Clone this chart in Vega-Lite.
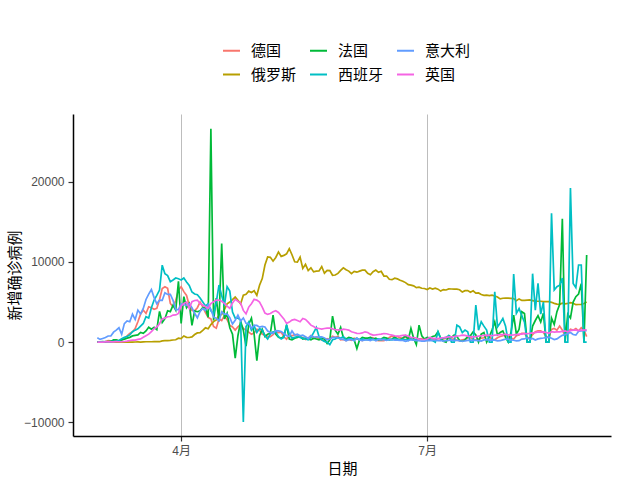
{
"$schema": "https://vega.github.io/schema/vega-lite/v6.json",
"width": 538, "height": 322,
"autosize": {"type": "none"},
"padding": {"left": 73, "top": 114, "right": 29, "bottom": 44},
"background": "white",
"data": {"format": {"parse": {"date": "date:'%Y-%m-%d'"}}, "values": [
{"date":"2020-03-01","德国":0,"俄罗斯":0,"法国":40,"西班牙":20,"意大利":561,"英国":10},
{"date":"2020-03-02","德国":0,"俄罗斯":0,"法国":30,"西班牙":40,"意大利":347,"英国":5},
{"date":"2020-03-03","德国":40,"俄罗斯":1,"法国":60,"西班牙":50,"意大利":466,"英国":10},
{"date":"2020-03-04","德国":70,"俄罗斯":0,"法国":15,"西班牙":60,"意大利":587,"英国":30},
{"date":"2020-03-05","德国":200,"俄罗斯":1,"法国":80,"西班牙":40,"意大利":769,"英国":30},
{"date":"2020-03-06","德国":180,"俄罗斯":0,"法国":90,"西班牙":70,"意大利":778,"英国":45},
{"date":"2020-03-07","德国":130,"俄罗斯":4,"法国":280,"西班牙":100,"意大利":1247,"英国":45},
{"date":"2020-03-08","德国":240,"俄罗斯":0,"法国":300,"西班牙":130,"意大利":1492,"英国":65},
{"date":"2020-03-09","德国":140,"俄罗斯":3,"法国":180,"西班牙":200,"意大利":1797,"英国":50},
{"date":"2020-03-10","德国":280,"俄罗斯":0,"法国":290,"西班牙":430,"意大利":977,"英国":55},
{"date":"2020-03-11","德国":450,"俄罗斯":8,"法国":370,"西班牙":600,"意大利":2313,"英国":80},
{"date":"2020-03-12","德国":800,"俄罗斯":8,"法国":500,"西班牙":700,"意大利":2651,"英国":130},
{"date":"2020-03-13","德国":1080,"俄罗斯":14,"法国":600,"西班牙":900,"意大利":2547,"英国":210},
{"date":"2020-03-14","德国":1300,"俄罗斯":16,"法国":780,"西班牙":1300,"意大利":3497,"英国":260},
{"date":"2020-03-15","德国":1710,"俄罗斯":18,"法国":840,"西班牙":1500,"意大利":2823,"英国":250},
{"date":"2020-03-16","德国":2540,"俄罗斯":30,"法国":900,"西班牙":1670,"意大利":4000,"英国":350},
{"date":"2020-03-17","德国":3500,"俄罗斯":12,"法国":1210,"西班牙":2000,"意大利":3526,"英国":400},
{"date":"2020-03-18","德国":4000,"俄罗斯":33,"法国":1100,"西班牙":2330,"意大利":4207,"英国":600},
{"date":"2020-03-19","德国":3580,"俄罗斯":52,"法国":1400,"西班牙":3170,"意大利":5322,"英国":800},
{"date":"2020-03-20","德国":4420,"俄罗斯":54,"法国":1860,"西班牙":3000,"意大利":5986,"英国":1000},
{"date":"2020-03-21","德国":4300,"俄罗斯":53,"法国":1620,"西班牙":4290,"意大利":6557,"英国":1300},
{"date":"2020-03-22","德国":4100,"俄罗斯":61,"法国":1850,"西班牙":5250,"意大利":5560,"英国":1670},
{"date":"2020-03-23","德国":4210,"俄罗斯":71,"法国":1560,"西班牙":5830,"意大利":4789,"英国":1880},
{"date":"2020-03-24","德国":5300,"俄罗斯":57,"法国":3840,"西班牙":6500,"意大利":5249,"英国":2300},
{"date":"2020-03-25","德国":6700,"俄罗斯":163,"法国":2450,"西班牙":9600,"意大利":5210,"英国":2900},
{"date":"2020-03-26","德国":6920,"俄罗斯":182,"法国":2930,"西班牙":8540,"意大利":6153,"英国":3000},
{"date":"2020-03-27","德国":6710,"俄罗斯":196,"法国":3920,"西班牙":8300,"意大利":5959,"英国":3170},
{"date":"2020-03-28","德国":4830,"俄罗斯":228,"法国":3810,"西班牙":7540,"意大利":5974,"英国":3200},
{"date":"2020-03-29","德国":4420,"俄罗斯":270,"法国":4610,"西班牙":7750,"意大利":5217,"英国":3375},
{"date":"2020-03-30","德国":5200,"俄罗斯":302,"法国":4000,"西班牙":8000,"意大利":4050,"英国":3400},
{"date":"2020-03-31","德国":6500,"俄罗斯":500,"法国":7600,"西班牙":7900,"意大利":4053,"英国":3580},
{"date":"2020-04-01","德国":6920,"俄罗斯":440,"法国":2330,"西班牙":7750,"意大利":4782,"英国":4500},
{"date":"2020-04-02","德国":6300,"俄罗斯":771,"法国":5670,"西班牙":8000,"意大利":4668,"英国":4830},
{"date":"2020-04-03","德国":5830,"俄罗斯":601,"法国":4300,"西班牙":7500,"意大利":4585,"英国":5000},
{"date":"2020-04-04","德国":4580,"俄罗斯":582,"法国":4800,"西班牙":7080,"意大利":4805,"英国":4210},
{"date":"2020-04-05","德国":3960,"俄罗斯":658,"法国":2100,"西班牙":6250,"意大利":4316,"英国":5040},
{"date":"2020-04-06","德国":3900,"俄罗斯":954,"法国":3900,"西班牙":6000,"意大利":3599,"英国":5200},
{"date":"2020-04-07","德国":4300,"俄罗斯":1154,"法国":3800,"西班牙":5920,"意大利":3039,"英国":5250},
{"date":"2020-04-08","德国":5000,"俄罗斯":1175,"法国":3900,"西班牙":5500,"意大利":3836,"英国":4800},
{"date":"2020-04-09","德国":4400,"俄罗斯":1459,"法国":4300,"西班牙":5000,"意大利":4204,"英国":4630},
{"date":"2020-04-10","德国":3700,"俄罗斯":1786,"法国":4300,"西班牙":4500,"意大利":3951,"英国":4420},
{"date":"2020-04-11","德国":3080,"俄罗斯":1667,"法国":3100,"西班牙":4800,"意大利":4694,"英国":4210},
{"date":"2020-04-12","德国":2900,"俄罗斯":2186,"法国":26600,"西班牙":3900,"意大利":4092,"英国":4800},
{"date":"2020-04-13","德国":1960,"俄罗斯":2558,"法国":2700,"西班牙":3500,"意大利":3153,"英国":5040},
{"date":"2020-04-14","德国":1750,"俄罗斯":2774,"法国":5500,"西班牙":5000,"意大利":2972,"英国":5250},
{"date":"2020-04-15","德国":2900,"俄罗斯":3388,"法国":2600,"西班牙":7125,"意大利":2667,"英国":5250},
{"date":"2020-04-16","德国":2700,"俄罗斯":3448,"法国":12300,"西班牙":5830,"意大利":3786,"英国":5100},
{"date":"2020-04-17","德国":3300,"俄罗斯":4070,"法国":2900,"西班牙":4580,"意大利":3493,"英国":4830},
{"date":"2020-04-18","德国":2800,"俄罗斯":4785,"法国":3600,"西班牙":6920,"意大利":3491,"英国":4500},
{"date":"2020-04-19","德国":2100,"俄罗斯":5000,"法国":1800,"西班牙":6375,"意大利":3047,"英国":4210},
{"date":"2020-04-20","德国":1900,"俄罗斯":5300,"法国":1000,"西班牙":3750,"意大利":2256,"英国":4900},
{"date":"2020-04-21","德国":1500,"俄罗斯":5642,"法国":-2000,"西班牙":3000,"意大利":2729,"英国":5340},
{"date":"2020-04-22","德国":1920,"俄罗斯":5236,"法国":800,"西班牙":3000,"意大利":3370,"英国":5100},
{"date":"2020-04-23","德国":2200,"俄罗斯":4774,"法国":2600,"西班牙":2750,"意大利":2646,"英国":4880},
{"date":"2020-04-24","德国":1700,"俄罗斯":5849,"法国":1500,"西班牙":-9960,"意大利":3021,"英国":3960},
{"date":"2020-04-25","德国":1500,"俄罗斯":5966,"法国":-500,"西班牙":1920,"意大利":2357,"英国":3540},
{"date":"2020-04-26","德国":1250,"俄罗斯":6361,"法国":2250,"西班牙":2500,"意大利":2324,"英国":4375},
{"date":"2020-04-27","德国":1000,"俄罗斯":6198,"法国":3000,"西班牙":1500,"意大利":1739,"英国":4800},
{"date":"2020-04-28","德国":1150,"俄罗斯":6411,"法国":1000,"西班牙":2000,"意大利":2091,"英国":5340},
{"date":"2020-04-29","德国":1600,"俄罗斯":5841,"法国":-2300,"西班牙":1200,"意大利":2086,"英国":5250},
{"date":"2020-04-30","德国":1500,"俄罗斯":7099,"法国":800,"西班牙":1700,"意大利":1872,"英国":5000},
{"date":"2020-05-01","德国":1000,"俄罗斯":7933,"法国":1600,"西班牙":1500,"意大利":1965,"英国":4375},
{"date":"2020-05-02","德国":900,"俄罗斯":9623,"法国":700,"西班牙":800,"意大利":1900,"英国":3625},
{"date":"2020-05-03","德国":700,"俄罗斯":10633,"法国":1000,"西班牙":400,"意大利":1389,"英国":3460},
{"date":"2020-05-04","德国":680,"俄罗斯":10581,"法国":1100,"西班牙":1000,"意大利":1221,"英国":3580},
{"date":"2020-05-05","德国":950,"俄罗斯":10102,"法国":3375,"西班牙":1300,"意大利":1075,"英国":3790},
{"date":"2020-05-06","德国":1300,"俄罗斯":10559,"法国":1000,"西班牙":1300,"意大利":1444,"英国":3920},
{"date":"2020-05-07","德国":1200,"俄罗斯":11231,"法国":600,"西班牙":700,"意大利":1401,"英国":3700},
{"date":"2020-05-08","德国":1250,"俄罗斯":10699,"法国":500,"西班牙":400,"意大利":1327,"英国":3300},
{"date":"2020-05-09","德国":670,"俄罗斯":10817,"法国":700,"西班牙":600,"意大利":1083,"英国":2900},
{"date":"2020-05-10","德国":360,"俄罗斯":11012,"法国":2125,"西班牙":2125,"意大利":802,"英国":2330},
{"date":"2020-05-11","德国":930,"俄罗斯":11656,"法国":400,"西班牙":1000,"意大利":744,"英国":2500},
{"date":"2020-05-12","德国":800,"俄罗斯":10899,"法国":300,"西班牙":500,"意大利":1402,"英国":2750},
{"date":"2020-05-13","德国":930,"俄罗斯":10028,"法国":500,"西班牙":600,"意大利":888,"英国":2830},
{"date":"2020-05-14","德国":910,"俄罗斯":9974,"法国":600,"西班牙":700,"意大利":992,"英国":2700},
{"date":"2020-05-15","德国":620,"俄罗斯":10598,"法国":700,"西班牙":600,"意大利":789,"英国":2540},
{"date":"2020-05-16","德国":580,"俄罗斯":9200,"法国":400,"西班牙":500,"意大利":875,"英国":2960},
{"date":"2020-05-17","德国":340,"俄罗斯":9709,"法国":500,"西班牙":400,"意大利":675,"英国":2830},
{"date":"2020-05-18","德国":510,"俄罗斯":8926,"法国":400,"西班牙":300,"意大利":451,"英国":2500},
{"date":"2020-05-19","德国":800,"俄罗斯":9263,"法国":300,"西班牙":600,"意大利":813,"英国":2120},
{"date":"2020-05-20","德国":460,"俄罗斯":8764,"法国":500,"西班牙":1200,"意大利":665,"英国":1960},
{"date":"2020-05-21","德国":640,"俄罗斯":8849,"法国":400,"西班牙":1830,"意大利":642,"英国":1750},
{"date":"2020-05-22","德国":430,"俄罗斯":8894,"法国":300,"西班牙":700,"意大利":652,"英国":1700},
{"date":"2020-05-23","德国":290,"俄罗斯":9434,"法国":500,"西班牙":300,"意大利":669,"英国":1625},
{"date":"2020-05-24","德国":180,"俄罗斯":8599,"法国":400,"西班牙":100,"意大利":531,"英国":1700},
{"date":"2020-05-25","德国":430,"俄罗斯":8946,"法国":-170,"西班牙":0,"意大利":300,"英国":1750},
{"date":"2020-05-26","德国":350,"俄罗斯":8915,"法国":300,"西班牙":-300,"意大利":397,"英国":1750},
{"date":"2020-05-27","德国":740,"俄罗斯":8338,"法国":3250,"西班牙":300,"意大利":584,"英国":1650},
{"date":"2020-05-28","德国":570,"俄罗斯":8371,"法国":1500,"西班牙":400,"意大利":593,"英国":1550},
{"date":"2020-05-29","德国":740,"俄罗斯":8572,"法国":1000,"西班牙":600,"意大利":516,"英国":1540},
{"date":"2020-05-30","德国":290,"俄罗斯":8952,"法国":1830,"西班牙":500,"意大利":416,"英国":1500},
{"date":"2020-05-31","德国":330,"俄罗斯":9268,"法国":600,"西班牙":700,"意大利":355,"英国":1625},
{"date":"2020-06-01","德国":210,"俄罗斯":9035,"法国":400,"西班牙":300,"意大利":178,"英国":1580},
{"date":"2020-06-02","德国":340,"俄罗斯":8863,"法国":600,"西班牙":400,"意大利":318,"英国":1500},
{"date":"2020-06-03","德国":240,"俄罗斯":8536,"法国":500,"西班牙":400,"意大利":321,"英国":1290},
{"date":"2020-06-04","德国":500,"俄罗斯":8831,"法国":300,"西班牙":300,"意大利":177,"英国":1200},
{"date":"2020-06-05","德国":400,"俄罗斯":8726,"法国":-790,"西班牙":500,"意大利":518,"英国":1100},
{"date":"2020-06-06","德国":300,"俄罗斯":8855,"法国":300,"西班牙":300,"意大利":270,"英国":1080},
{"date":"2020-06-07","德国":190,"俄罗斯":8984,"法国":600,"西班牙":400,"意大利":197,"英国":1150},
{"date":"2020-06-08","德国":400,"俄罗斯":8985,"法国":500,"西班牙":300,"意大利":280,"英国":1290},
{"date":"2020-06-09","德国":350,"俄罗斯":8595,"法国":500,"西班牙":300,"意大利":283,"英国":1200},
{"date":"2020-06-10","德国":560,"俄罗斯":8404,"法国":600,"西班牙":400,"意大利":202,"英国":1000},
{"date":"2020-06-11","德国":550,"俄罗斯":8779,"法国":400,"西班牙":300,"意大利":379,"英国":875},
{"date":"2020-06-12","德国":250,"俄罗斯":8987,"法国":500,"西班牙":300,"意大利":163,"英国":900},
{"date":"2020-06-13","德国":190,"俄罗斯":8706,"法国":300,"西班牙":400,"意大利":346,"英国":960},
{"date":"2020-06-14","德国":190,"俄罗斯":8835,"法国":400,"西班牙":300,"意大利":338,"英国":1000},
{"date":"2020-06-15","德国":200,"俄罗斯":8246,"法国":600,"西班牙":400,"意大利":301,"英国":1080},
{"date":"2020-06-16","德国":350,"俄罗斯":8248,"法国":500,"西班牙":300,"意大利":210,"英国":1050},
{"date":"2020-06-17","德国":580,"俄罗斯":7843,"法国":300,"西班牙":350,"意大利":329,"英国":950},
{"date":"2020-06-18","德国":770,"俄罗斯":7790,"法国":400,"西班牙":300,"意大利":333,"英国":875},
{"date":"2020-06-19","德国":600,"俄罗斯":7972,"法国":600,"西班牙":400,"意大利":251,"英国":800},
{"date":"2020-06-20","德国":700,"俄罗斯":7889,"法国":400,"西班牙":350,"意大利":262,"英国":750},
{"date":"2020-06-21","德国":530,"俄罗斯":7728,"法国":300,"西班牙":300,"意大利":224,"英国":780},
{"date":"2020-06-22","德国":500,"俄罗斯":7600,"法国":500,"西班牙":350,"意大利":221,"英国":850},
{"date":"2020-06-23","德国":630,"俄罗斯":7425,"法国":800,"西班牙":300,"意大利":113,"英国":875},
{"date":"2020-06-24","德国":590,"俄罗斯":7176,"法国":300,"西班牙":300,"意大利":190,"英国":750},
{"date":"2020-06-25","德国":480,"俄罗斯":7113,"法国":1710,"西班牙":400,"意大利":296,"英国":600},
{"date":"2020-06-26","德国":300,"俄罗斯":7022,"法国":500,"西班牙":300,"意大利":259,"英国":580},
{"date":"2020-06-27","德国":300,"俄罗斯":6800,"法国":-300,"西班牙":300,"意大利":175,"英国":500},
{"date":"2020-06-28","德国":400,"俄罗斯":6852,"法国":2125,"西班牙":350,"意大利":174,"英国":330},
{"date":"2020-06-29","德国":450,"俄罗斯":6719,"法国":800,"西班牙":300,"意大利":126,"英国":330},
{"date":"2020-06-30","德国":420,"俄罗斯":6693,"法国":400,"西班牙":300,"意大利":142,"英国":330},
{"date":"2020-07-01","德国":450,"俄罗斯":6556,"法国":600,"西班牙":300,"意大利":187,"英国":400},
{"date":"2020-07-02","德国":500,"俄罗斯":6760,"法国":500,"西班牙":300,"意大利":201,"英国":580},
{"date":"2020-07-03","德国":400,"俄罗斯":6632,"法国":700,"西班牙":200,"意大利":223,"英国":500},
{"date":"2020-07-04","德国":300,"俄罗斯":6736,"法国":800,"西班牙":0,"意大利":235,"英国":450},
{"date":"2020-07-05","德国":250,"俄罗斯":6611,"法国":1290,"西班牙":1290,"意大利":192,"英国":460},
{"date":"2020-07-06","德国":220,"俄罗斯":6368,"法国":500,"西班牙":400,"意大利":208,"英国":500},
{"date":"2020-07-07","德国":400,"俄罗斯":6562,"法国":100,"西班牙":500,"意大利":138,"英国":550},
{"date":"2020-07-08","德国":500,"俄罗斯":6509,"法国":0,"西班牙":600,"意大利":193,"英国":600},
{"date":"2020-07-09","德国":450,"俄罗斯":6635,"法国":800,"西班牙":800,"意大利":229,"英国":650},
{"date":"2020-07-10","德国":350,"俄罗斯":6632,"法国":600,"西班牙":0,"意大利":276,"英国":650},
{"date":"2020-07-11","德国":400,"俄罗斯":6615,"法国":900,"西班牙":0,"意大利":188,"英国":700},
{"date":"2020-07-12","德国":250,"俄罗斯":6611,"法国":700,"西班牙":2125,"意大利":234,"英国":750},
{"date":"2020-07-13","德国":200,"俄罗斯":6537,"法国":200,"西班牙":1900,"意大利":169,"英国":800},
{"date":"2020-07-14","德国":300,"俄罗斯":6248,"法国":100,"西班牙":1200,"意大利":114,"英国":875},
{"date":"2020-07-15","德国":350,"俄罗斯":6422,"法国":300,"西班牙":1500,"意大利":162,"英国":850},
{"date":"2020-07-16","德国":550,"俄罗斯":6428,"法国":700,"西班牙":1300,"意大利":230,"英国":750},
{"date":"2020-07-17","德国":600,"俄罗斯":6234,"法国":800,"西班牙":0,"意大利":233,"英国":700},
{"date":"2020-07-18","德国":350,"俄罗斯":6406,"法国":1290,"西班牙":0,"意大利":249,"英国":670},
{"date":"2020-07-19","德国":250,"俄罗斯":6109,"法国":900,"西班牙":4625,"意大利":219,"英国":700},
{"date":"2020-07-20","德国":400,"俄罗斯":6139,"法国":0,"西班牙":1500,"意大利":190,"英国":750},
{"date":"2020-07-21","德国":500,"俄罗斯":5940,"法国":1000,"西班牙":2540,"意大利":129,"英国":800},
{"date":"2020-07-22","德国":550,"俄罗斯":5842,"法国":1200,"西班牙":2000,"意大利":282,"英国":850},
{"date":"2020-07-23","德国":800,"俄罗斯":5862,"法国":0,"西班牙":1500,"意大利":306,"英国":875},
{"date":"2020-07-24","德国":700,"俄罗斯":5811,"法国":700,"西班牙":0,"意大利":252,"英国":850},
{"date":"2020-07-25","德国":350,"俄罗斯":5871,"法国":1500,"西班牙":0,"意大利":275,"英国":800},
{"date":"2020-07-26","德国":300,"俄罗斯":5765,"法国":2540,"西班牙":6290,"意大利":255,"英国":875},
{"date":"2020-07-27","德国":550,"俄罗斯":5635,"法国":900,"西班牙":1900,"意大利":170,"英国":900},
{"date":"2020-07-28","德国":700,"俄罗斯":5395,"法国":1200,"西班牙":2400,"意大利":181,"英国":950},
{"date":"2020-07-29","德国":800,"俄罗斯":5475,"法国":1400,"西班牙":2960,"意大利":289,"英国":950},
{"date":"2020-07-30","德国":900,"俄罗斯":5509,"法国":600,"西班牙":2000,"意大利":386,"英国":1000},
{"date":"2020-07-31","德国":700,"俄罗斯":5482,"法国":0,"西班牙":0,"意大利":379,"英国":900},
{"date":"2020-08-01","德国":500,"俄罗斯":5462,"法国":1200,"西班牙":0,"意大利":295,"英国":875},
{"date":"2020-08-02","德国":400,"俄罗斯":5427,"法国":3375,"西班牙":8500,"意大利":238,"英国":900},
{"date":"2020-08-03","德国":800,"俄罗斯":5159,"法国":1000,"西班牙":3600,"意大利":159,"英国":950},
{"date":"2020-08-04","德国":900,"俄罗斯":5394,"法国":1600,"西班牙":4200,"意大利":190,"英国":1000},
{"date":"2020-08-05","德国":1100,"俄罗斯":5204,"法国":3790,"西班牙":3300,"意大利":384,"英国":1000},
{"date":"2020-08-06","德国":1100,"俄罗斯":5212,"法国":3580,"西班牙":2500,"意大利":402,"英国":1080},
{"date":"2020-08-07","德国":600,"俄罗斯":5241,"法国":0,"西班牙":0,"意大利":552,"英国":1050},
{"date":"2020-08-08","德国":450,"俄罗斯":5267,"法国":0,"西班牙":0,"意大利":347,"英国":1100},
{"date":"2020-08-09","德国":950,"俄罗斯":5189,"法国":2000,"西班牙":8540,"意大利":463,"英国":1150},
{"date":"2020-08-10","德国":1300,"俄罗斯":5118,"法国":2700,"西班牙":4000,"意大利":259,"英国":1200},
{"date":"2020-08-11","德国":1400,"俄罗斯":5102,"法国":3300,"西班牙":7330,"意大利":412,"英国":1290},
{"date":"2020-08-12","德国":1400,"俄罗斯":5102,"法国":2500,"西班牙":3500,"意大利":481,"英国":1250},
{"date":"2020-08-13","德国":1200,"俄罗斯":5057,"法国":3600,"西班牙":5000,"意大利":523,"英国":1290},
{"date":"2020-08-14","德国":700,"俄罗斯":5065,"法国":0,"西班牙":0,"意大利":574,"英国":1200},
{"date":"2020-08-15","德国":600,"俄罗斯":5061,"法国":0,"西班牙":0,"意大利":629,"英国":1100},
{"date":"2020-08-16","德国":1600,"俄罗斯":4969,"法国":3000,"西班牙":16080,"意大利":479,"英国":1300},
{"date":"2020-08-17","德国":1700,"俄罗斯":4839,"法国":2200,"西班牙":6500,"意大利":320,"英国":1250},
{"date":"2020-08-18","德国":1500,"俄罗斯":4748,"法国":3800,"西班牙":6920,"意大利":403,"英国":1290},
{"date":"2020-08-19","德国":2000,"俄罗斯":4718,"法国":4700,"西班牙":7100,"意大利":642,"英国":1290},
{"date":"2020-08-20","德国":1500,"俄罗斯":4870,"法国":15400,"西班牙":8000,"意大利":845,"英国":1350},
{"date":"2020-08-21","德国":800,"俄罗斯":4767,"法国":0,"西班牙":0,"意大利":947,"英国":1400},
{"date":"2020-08-22","德国":1200,"俄罗斯":4838,"法国":3500,"西班牙":0,"意大利":1071,"英国":1300},
{"date":"2020-08-23","德国":1600,"俄罗斯":4921,"法国":3000,"西班牙":19210,"意大利":1210,"英国":1450},
{"date":"2020-08-24","德国":1500,"俄罗斯":4852,"法国":5000,"西班牙":7330,"意大利":953,"英国":1500},
{"date":"2020-08-25","德国":1700,"俄罗斯":4676,"法国":5670,"西班牙":6800,"意大利":878,"英国":1500},
{"date":"2020-08-26","德国":1400,"俄罗斯":4696,"法国":6000,"西班牙":9620,"意大利":1367,"英国":1450},
{"date":"2020-08-27","德国":1800,"俄罗斯":4711,"法国":7300,"西班牙":9620,"意大利":1409,"英国":1500},
{"date":"2020-08-28","德国":1500,"俄罗斯":4829,"法国":0,"西班牙":0,"意大利":1460,"英国":1500},
{"date":"2020-08-29","德国":700,"俄罗斯":4995,"法国":10870,"西班牙":0,"意大利":1444,"英国":1550}
]},
"transform": [{"fold": ["德国","俄罗斯","法国","西班牙","意大利","英国"], "as": ["country","cases"]}],
"mark": {"type": "line", "strokeWidth": 1.7},
"encoding": {
  "x": {"field": "date", "type": "temporal", "title": "日期",
        "scale": {"domain": [{"year":2020,"month":2,"date":21},{"year":2020,"month":9,"date":7}]},
        "axis": {"values": [{"year":2020,"month":4,"date":1},{"year":2020,"month":7,"date":1}], "format": "%-m月", "grid": true, "gridColor": "#BDBDBD", "gridWidth": 1}},
  "y": {"field": "cases", "type": "quantitative", "title": "新增确诊病例",
        "scale": {"domain": [-11700, 28450], "nice": false, "zero": false},
        "axis": {"values": [-10000, 0, 10000, 20000], "format": "d", "grid": false}},
  "color": {"field": "country", "type": "nominal",
        "scale": {"domain": ["德国","法国","意大利","俄罗斯","西班牙","英国"], "range": ["#F8766D","#00BA38","#619CFF","#B79F00","#00BFC4","#F564E3"]},
        "legend": {"title": null, "orient": "none", "legendX": 149, "legendY": -73, "columns": 3, "direction": "horizontal", "symbolType": "stroke", "symbolSize": 289, "symbolStrokeWidth": 2, "labelOffset": 10, "columnPadding": 9, "rowPadding": 6, "labelFontSize": 15, "labelFont": "Noto Sans CJK SC", "labelColor": "#000000", "padding": 0}}
},
"config": {
  "view": {"stroke": null},
  "axis": {"domainColor": "#000000", "domainWidth": 1.5, "tickColor": "#333333", "tickWidth": 1.2, "tickSize": 5, "labelColor": "#4D4D4D", "labelFontSize": 12, "labelFont": "Liberation Sans, Noto Sans CJK SC", "labelPadding": 4, "titleFont": "Noto Sans CJK SC", "titleFontSize": 15, "titleFontWeight": "normal", "titleColor": "#000000"},
  "axisX": {"titlePadding": 5},
  "axisY": {"titlePadding": 1}
}
}
